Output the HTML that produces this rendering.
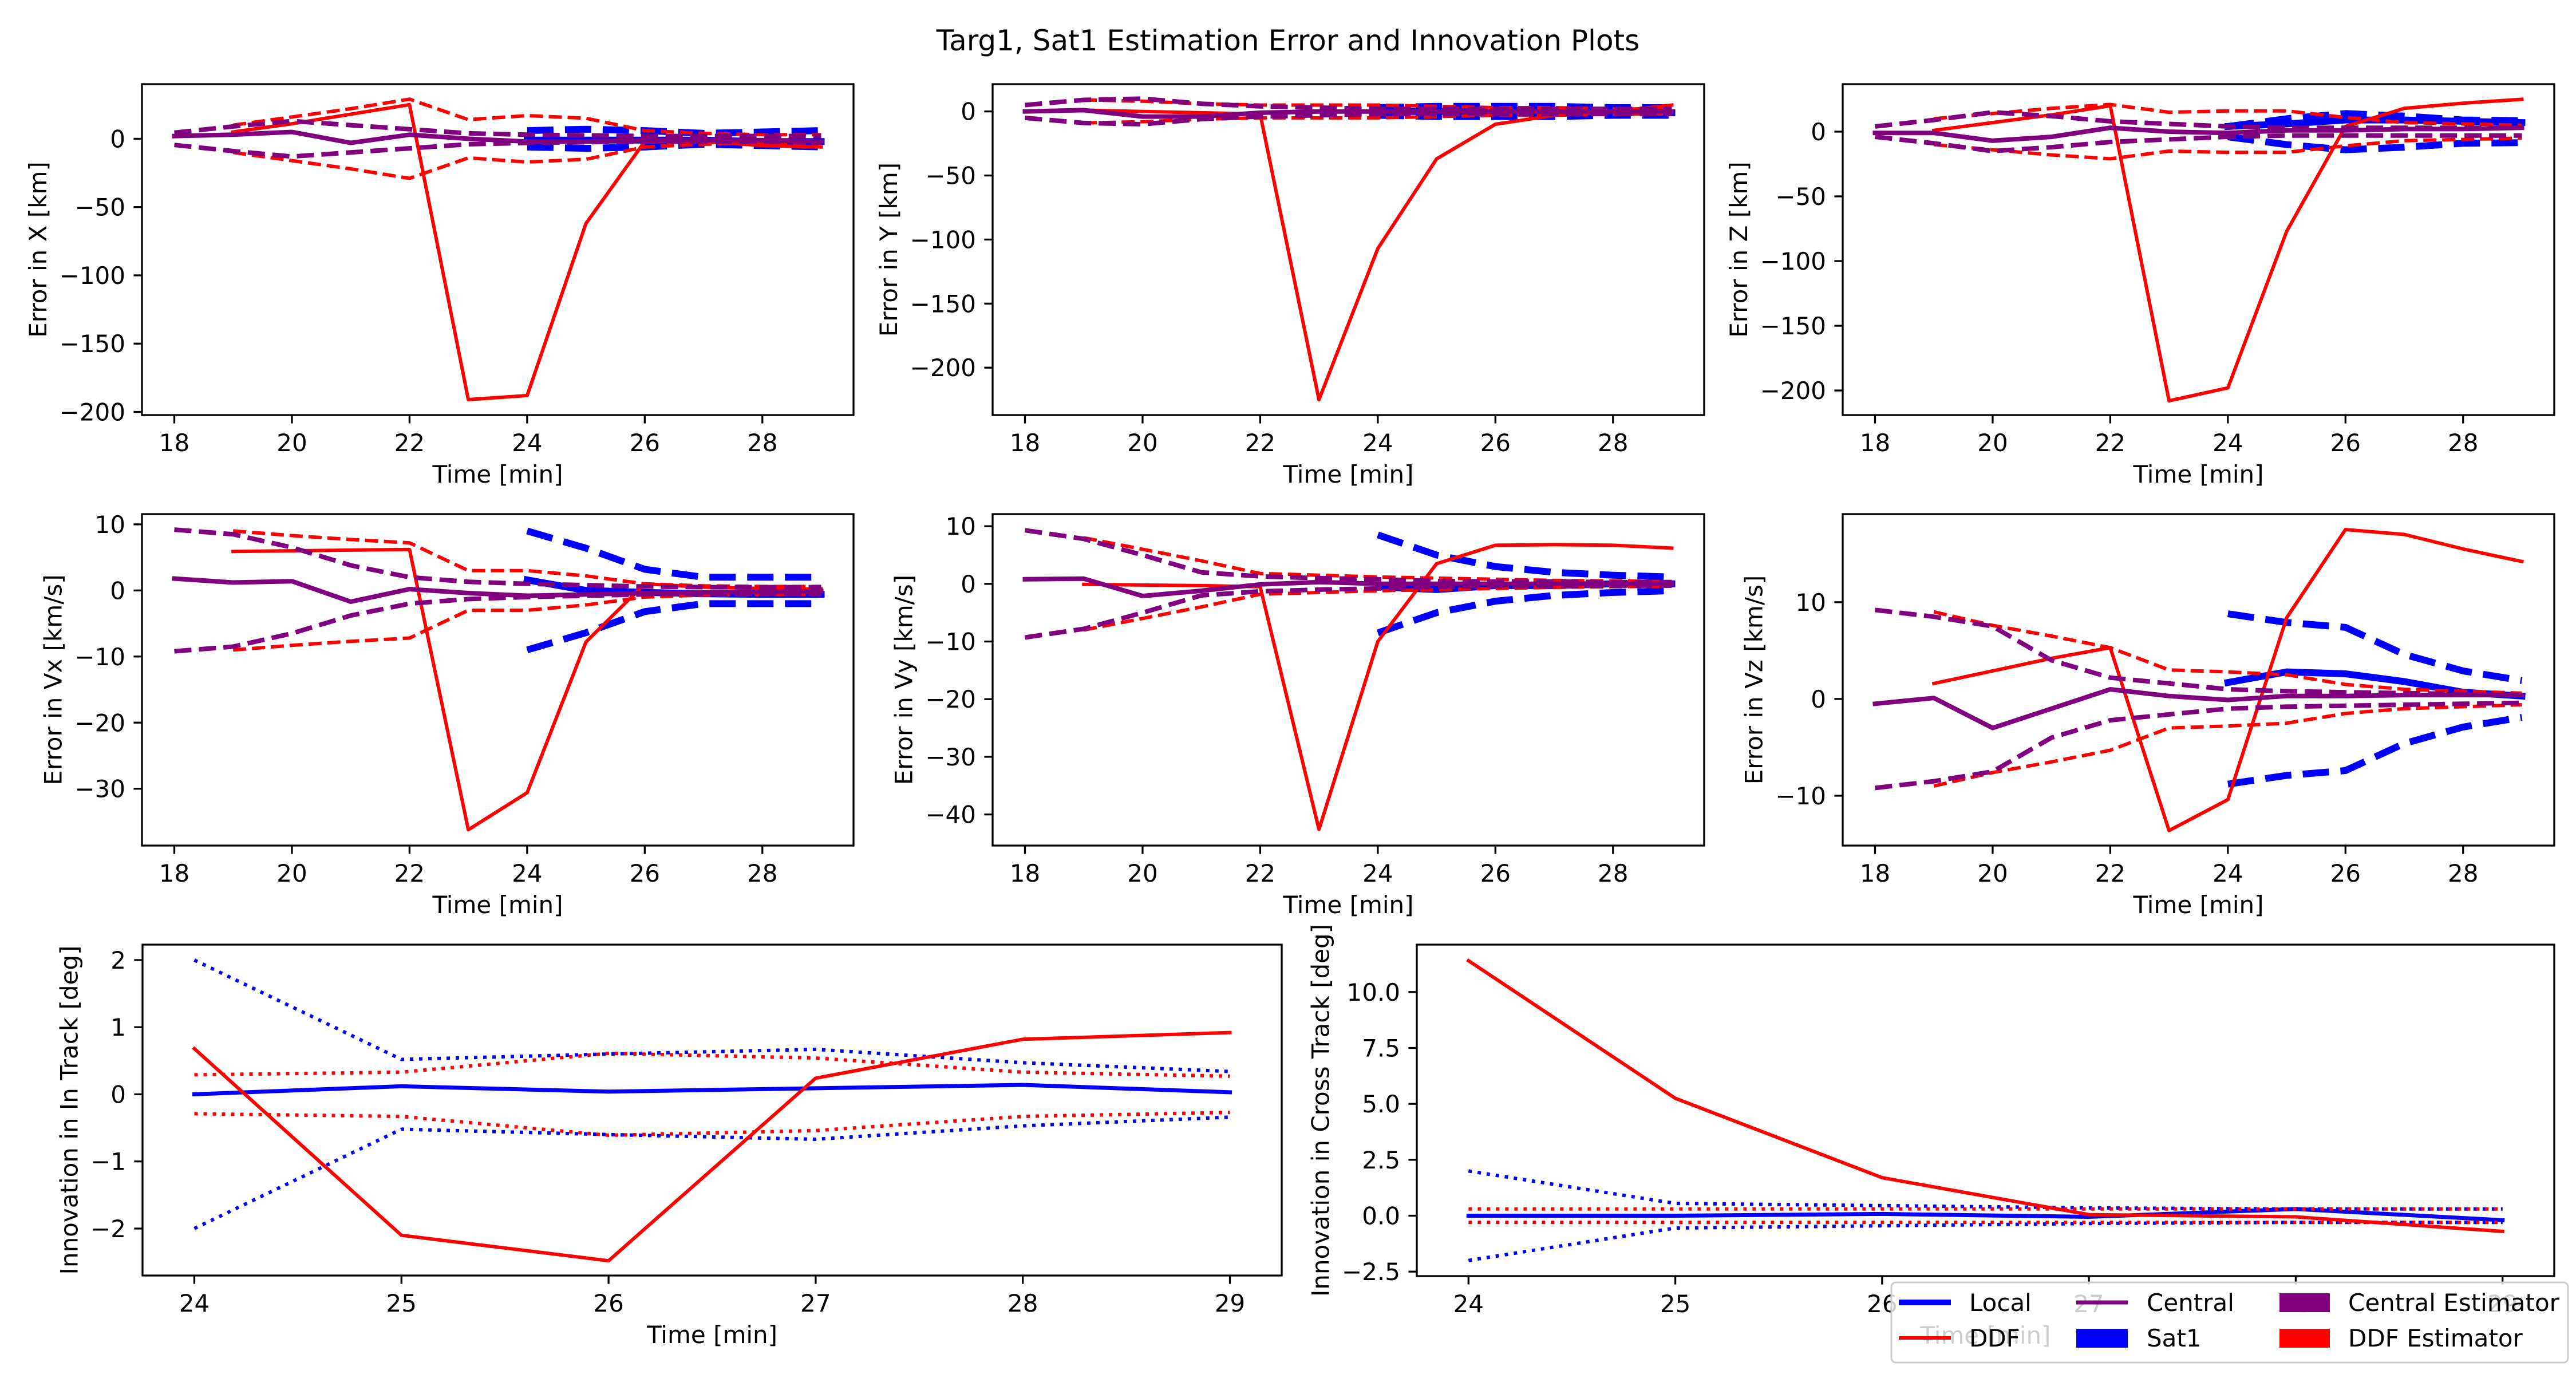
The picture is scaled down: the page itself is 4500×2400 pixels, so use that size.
<!DOCTYPE html>
<html><head><meta charset="utf-8"><style>
html,body{margin:0;padding:0;background:#fff;}
svg{display:block;font-family:"DejaVu Sans","Liberation Sans",sans-serif;}
</style></head><body>
<svg id="fig" width="4500" height="2400" viewBox="0 0 4500 2400" xmlns="http://www.w3.org/2000/svg">
<rect x="0" y="0" width="4500" height="2400" fill="#fff"/>
<text x="2250" y="88" font-size="50" text-anchor="middle">Targ1, Sat1 Estimation Error and Innovation Plots</text>
</svg>
<script>
// ---------- data ----------
const times = [18,19,20,21,22,23,24,25,26,27,28,29];
const innovTimes = [24,25,26,27,28,29];
const topTicks = [18,20,22,24,26,28];
const innovTicks = [24,25,26,27,28,29];

const xCentral = [2,3,5,-3,3,0,-2,-2,-1,-1,-1,-2];
const xCentralSig = [4.5,9,13,10,7,4,3,2.5,2,2,2,2];
const xDdf = [null,5,11,18,25,-191,-188,-62,-2,-2,-5,-6];
const xDdfSig = [null,10,16,22,29,14,17,15,6,4,3,3];
const xLocal = [null,null,null,null,null,null,-1,-1,-1,-1,-2,-2];
const xLocalSig = [null,null,null,null,null,null,6,7,6,4,5,6];
const xTicks = [0,-50,-100,-150,-200];

const yCentral = [0,1,-4,-4,-1,0,0,0,0,0,0,0];
const yCentralSig = [5,9,10,6,4,3,2,2,2,2,2,2];
const yDdf = [null,1,0,-1,-2,-225,-107,-37,-10,-3,0,5];
const yDdfSig = [null,9,8,6,5,5,5,4,3,3,2,2];
const yLocal = [null,null,null,null,null,null,0,0,0,-1,0,-1];
const yLocalSig = [null,null,null,null,null,null,3,4,4,4,3,3];
const yTicks = [0,-50,-100,-150,-200];

const zCentral = [-1,-1,-7,-4,3,0,-1,1,1,2,2,3];
const zCentralSig = [4,9,15,12,8,6,4,3,3,3,3,3];
const zDdf = [null,1,7,13,20,-208,-198,-77,4,18,22,25];
const zDdfSig = [null,10,14,18,21,15,16,16,11,7,6,5];
const zLocal = [null,null,null,null,null,null,4,6,9,9,8,7];
const zLocalSig = [null,null,null,null,null,null,4,10,14,12,9,8.5];
const zTicks = [0,-50,-100,-150,-200];

const vxCentral = [1.8,1.2,1.4,-1.7,0.2,-0.4,-0.8,-0.6,-0.4,-0.3,-0.2,-0.1];
const vxCentralSig = [9.2,8.5,6.5,3.8,2,1.3,1,0.8,0.6,0.5,0.5,0.5];
const vxDdf = [null,5.9,6.0,6.1,6.2,-36.2,-30.6,-7.8,1,0.5,0.3,0.2];
const vxDdfSig = [null,9,8.3,7.7,7.2,3,3,2.2,1,0.7,0.6,0.6];
const vxLocal = [null,null,null,null,null,null,1.6,0,-0.3,-0.5,-0.6,-0.6];
const vxLocalSig = [null,null,null,null,null,null,9,6.4,3.2,2,2,2];
const vxTicks = [10,0,-10,-20,-30];

const vyCentral = [0.8,0.9,-2.1,-1.2,-0.1,0.3,0,0,0,0,0,0];
const vyCentralSig = [9.3,7.8,5,2,1.3,1,0.8,0.5,0.4,0.4,0.3,0.3];
const vyDdf = [null,-0.1,-0.2,-0.3,-0.5,-42.6,-10,3.5,6.7,6.8,6.7,6.2];
const vyDdfSig = [null,8,6,4,1.8,1.5,1.2,1,0.8,0.6,0.5,0.4];
const vyLocal = [null,null,null,null,null,null,-0.5,-1,-0.3,-0.3,0,0];
const vyLocalSig = [null,null,null,null,null,null,8.5,5,3,2,1.5,1.2];
const vyTicks = [10,0,-10,-20,-30,-40];

const vzCentral = [-0.5,0.1,-3,-1,1,0.3,-0.1,0.3,0.3,0.4,0.4,0.4];
const vzCentralSig = [9.2,8.5,7.5,4,2.2,1.6,1,0.8,0.7,0.6,0.5,0.4];
const vzDdf = [null,1.6,2.9,4.2,5.3,-13.6,-10.4,8.4,17.5,17,15.5,14.2];
const vzDdfSig = [null,9,7.6,6.5,5.3,3,2.8,2.5,1.5,1,0.8,0.6];
const vzLocal = [null,null,null,null,null,null,1.7,2.8,2.6,1.8,0.7,0.3];
const vzLocalSig = [null,null,null,null,null,null,8.8,7.9,7.4,4.6,2.9,1.9];
const vzTicks = [10,0,-10];

const inLocal = [0,0.12,0.04,0.09,0.14,0.03];
const inLocalSig = [2.0,0.52,0.6,0.67,0.47,0.34];
const inDdf = [0.68,-2.1,-2.48,0.24,0.82,0.92];
const inDdfSig = [0.29,0.33,0.61,0.54,0.33,0.27];
const inTicks = [2,1,0,-1,-2];

const ctLocal = [0,0,0.08,-0.05,0.3,-0.2];
const ctLocalSig = [2.0,0.55,0.45,0.35,0.3,0.3];
const ctDdf = [11.4,5.25,1.7,0.05,-0.05,-0.7];
const ctDdfSig = [0.3,0.3,0.3,0.3,0.3,0.3];
const ctTicks = [10.0,7.5,5.0,2.5,0.0,-2.5];

// ---------- layout ----------
const NS = "http://www.w3.org/2000/svg";
const svg = document.getElementById('fig');
function mk(tag, attrs, parent) {
  const el = document.createElementNS(NS, tag);
  for (const k in attrs) el.setAttribute(k, attrs[k]);
  (parent || svg).appendChild(el);
  return el;
}
function fmt(v, dec) {
  const s = dec ? Math.abs(v).toFixed(dec) : String(Math.abs(v));
  return (v < 0 ? '\u2212' : '') + s;
}
function textW(s) {
  let w = 0;
  for (const c of s) w += (c === '\u2212') ? 35 : (c === '.' ? 13.3 : 26.7);
  return w;
}

const BLUE = '#0000ff', RED = '#ff0000', PURPLE = '#800080';

function panel(cfg) {
  const {name, L, R, T, B, xmin, xmax, ymin, ymax, xs, xticks, yticks, ydec, ylabel, series} = cfg;
  const g = mk('g', {});
  
  
  const sx = v => L + (v - xmin) / (xmax - xmin) * (R - L);
  const sy = v => B - (v - ymin) / (ymax - ymin) * (B - T);
  const cid = 'clip-' + name;
  const cp = mk('clipPath', {id: cid}, g);
  mk('rect', {x: L, y: T, width: R - L, height: B - T}, cp);
  const plot = mk('g', {'clip-path': 'url(#' + cid + ')'}, g);
  
  
  for (const s of series) {
    const pts = [];
    s.vals.forEach((v, i) => { if (v !== null) pts.push([sx(xs[i]), sy(s.sign * v)]); });
    const d = pts.map((p, i) => (i ? 'L' : 'M') + p[0].toFixed(1) + ' ' + p[1].toFixed(1)).join(' ');
    const a = {d: d, fill: 'none', stroke: s.color, 'stroke-width': s.lw, 'stroke-linejoin': 'round', 'stroke-linecap': s.dash ? 'butt' : 'square'};
    if (s.dash) a['stroke-dasharray'] = s.dash;
    const p = mk('path', a, plot);
    
    
  }
  const frame = mk('rect', {x: L, y: T, width: R - L, height: B - T, fill: 'none', stroke: '#000', 'stroke-width': 3.3}, g);
  
  
  for (const t of xticks) {
    const x = sx(t);
    mk('line', {x1: x, y1: B, x2: x, y2: B + 14.6, stroke: '#000', 'stroke-width': 3.3}, g);
    const tl = mk('text', {x: x, y: B + 63, 'font-size': 42, 'text-anchor': 'middle'}, g);
    tl.textContent = String(t);
    
    
  }
  let maxW = 0;
  for (const t of yticks) {
    const y = sy(t);
    mk('line', {x1: L - 14.6, y1: y, x2: L, y2: y, stroke: '#000', 'stroke-width': 3.3}, g);
    const s = fmt(t, ydec);
    maxW = Math.max(maxW, textW(s));
    const tl = mk('text', {x: L - 29, y: y + 15, 'font-size': 42, 'text-anchor': 'end'}, g);
    tl.textContent = s;
    
    
  }
  const xl = mk('text', {x: (L + R) / 2, y: B + 118, 'font-size': 42, 'text-anchor': 'middle'}, g);
  xl.textContent = 'Time [min]';
  
  
  const lx = L - 29 - maxW - 17 - 6;
  const yl = mk('text', {x: lx, y: (T + B) / 2, 'font-size': 42, 'text-anchor': 'middle', transform: 'rotate(-90 ' + lx + ' ' + ((T + B) / 2) + ')'}, g);
  yl.textContent = ylabel;
  
  
}

function errSeries(c, cs, d, ds, l, ls) {
  return [
    {name: 'local-error', vals: l, sign: 1, color: BLUE, lw: 12},
    {name: 'local-bound-upper', vals: ls, sign: 1, color: BLUE, lw: 12, dash: '46 20'},
    {name: 'local-bound-lower', vals: ls, sign: -1, color: BLUE, lw: 12, dash: '46 20'},
    {name: 'ddf-error', vals: d, sign: 1, color: RED, lw: 6},
    {name: 'ddf-bound-upper', vals: ds, sign: 1, color: RED, lw: 6, dash: '23 10'},
    {name: 'ddf-bound-lower', vals: ds, sign: -1, color: RED, lw: 6, dash: '23 10'},
    {name: 'central-error', vals: c, sign: 1, color: PURPLE, lw: 8},
    {name: 'central-bound-upper', vals: cs, sign: 1, color: PURPLE, lw: 8, dash: '30 13'},
    {name: 'central-bound-lower', vals: cs, sign: -1, color: PURPLE, lw: 8, dash: '30 13'}
  ];
}
function innSeries(l, ls, d, ds) {
  return [
    {name: 'local-innovation', vals: l, sign: 1, color: BLUE, lw: 7},
    {name: 'local-innov-bound-upper', vals: ls, sign: 1, color: BLUE, lw: 6, dash: '6 10'},
    {name: 'local-innov-bound-lower', vals: ls, sign: -1, color: BLUE, lw: 6, dash: '6 10'},
    {name: 'ddf-innovation', vals: d, sign: 1, color: RED, lw: 6},
    {name: 'ddf-innov-bound-upper', vals: ds, sign: 1, color: RED, lw: 6, dash: '6 10'},
    {name: 'ddf-innov-bound-lower', vals: ds, sign: -1, color: RED, lw: 6, dash: '6 10'}
  ];
}

const C1 = [248, 1491], C2 = [1734, 2977], C3 = [3219, 4462];
const R1 = [147, 725], R2 = [898, 1477];
const TX = {xmin: 17.45, xmax: 29.55, xs: times, xticks: topTicks};

panel(Object.assign({name: 'error-x-panel', L: C1[0], R: C1[1], T: R1[0], B: R1[1], ymin: -202.3, ymax: 40, yticks: xTicks, ylabel: 'Error in X [km]',
  series: errSeries(xCentral, xCentralSig, xDdf, xDdfSig, xLocal, xLocalSig)}, TX));
panel(Object.assign({name: 'error-y-panel', L: C2[0], R: C2[1], T: R1[0], B: R1[1], ymin: -237, ymax: 21.3, yticks: yTicks, ylabel: 'Error in Y [km]',
  series: errSeries(yCentral, yCentralSig, yDdf, yDdfSig, yLocal, yLocalSig)}, TX));
panel(Object.assign({name: 'error-z-panel', L: C3[0], R: C3[1], T: R1[0], B: R1[1], ymin: -219, ymax: 36.7, yticks: zTicks, ylabel: 'Error in Z [km]',
  series: errSeries(zCentral, zCentralSig, zDdf, zDdfSig, zLocal, zLocalSig)}, TX));
panel(Object.assign({name: 'error-vx-panel', L: C1[0], R: C1[1], T: R2[0], B: R2[1], ymin: -38.6, ymax: 11.55, yticks: vxTicks, ylabel: 'Error in Vx [km/s]',
  series: errSeries(vxCentral, vxCentralSig, vxDdf, vxDdfSig, vxLocal, vxLocalSig)}, TX));
panel(Object.assign({name: 'error-vy-panel', L: C2[0], R: C2[1], T: R2[0], B: R2[1], ymin: -45.4, ymax: 12.1, yticks: vyTicks, ylabel: 'Error in Vy [km/s]',
  series: errSeries(vyCentral, vyCentralSig, vyDdf, vyDdfSig, vyLocal, vyLocalSig)}, TX));
panel(Object.assign({name: 'error-vz-panel', L: C3[0], R: C3[1], T: R2[0], B: R2[1], ymin: -15.15, ymax: 19.1, yticks: vzTicks, ylabel: 'Error in Vz [km/s]',
  series: errSeries(vzCentral, vzCentralSig, vzDdf, vzDdfSig, vzLocal, vzLocalSig)}, TX));

panel({name: 'in-track-panel', L: 249, R: 2239, T: 1650, B: 2228, xmin: 23.75, xmax: 29.25, xs: innovTimes, xticks: innovTicks,
  ymin: -2.70, ymax: 2.23, yticks: inTicks, ylabel: 'Innovation in In Track [deg]', series: innSeries(inLocal, inLocalSig, inDdf, inDdfSig)});
panel({name: 'cross-track-panel', L: 2475, R: 4462, T: 1650, B: 2229, xmin: 23.75, xmax: 29.25, xs: innovTimes, xticks: innovTicks,
  ymin: -2.70, ymax: 12.12, yticks: ctTicks, ydec: 1, ylabel: 'Innovation in Cross Track [deg]', series: innSeries(ctLocal, ctLocalSig, ctDdf, ctDdfSig)});
</script>
<svg style="position:absolute;left:0;top:0" width="4500" height="2400">
<g font-family="DejaVu Sans, Liberation Sans, sans-serif" font-size="42">
<rect x="3304" y="2240" width="1182" height="140" rx="8" fill="#fff" fill-opacity="0.8" stroke="#cccccc" stroke-width="3"/>
<g><line x1="3317" y1="2275" x2="3408" y2="2275" stroke="#0000ff" stroke-width="10"/><text x="3440" y="2290">Local</text></g>
<g><line x1="3317" y1="2337" x2="3408" y2="2337" stroke="#ff0000" stroke-width="6"/><text x="3440" y="2352">DDF</text></g>
<g><line x1="3627" y1="2275" x2="3717" y2="2275" stroke="#800080" stroke-width="7"/><text x="3750" y="2290">Central</text></g>
<g><rect x="3627" y="2321" width="90" height="33" fill="#0000ff"/><text x="3750" y="2352">Sat1</text></g>
<g><rect x="3982" y="2259" width="88" height="33" fill="#800080"/><text x="4102" y="2290">Central Estimator</text></g>
<g><rect x="3982" y="2321" width="88" height="33" fill="#ff0000"/><text x="4102" y="2352">DDF Estimator</text></g>
</g>
</svg>
</body></html>
